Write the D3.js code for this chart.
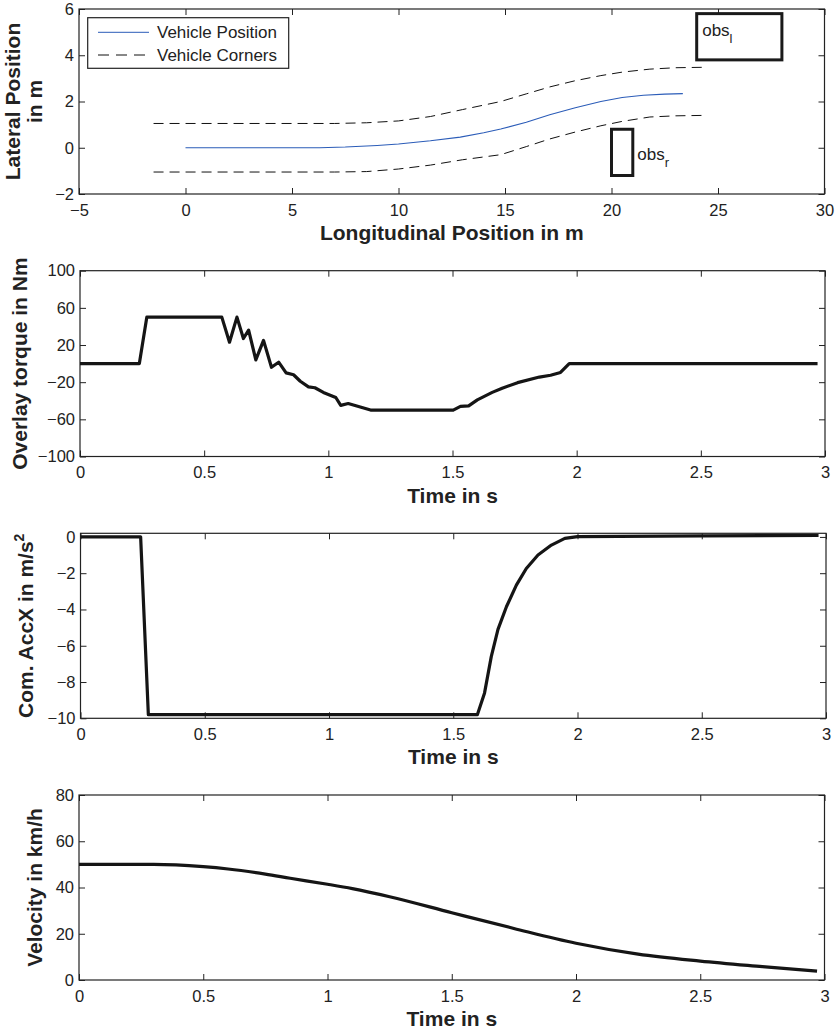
<!DOCTYPE html>
<html><head><meta charset="utf-8">
<script src="https://cdn.jsdelivr.net/npm/d3@7"></script>
<style>
body{margin:0;background:#fff}
svg{display:block}
text{font-family:"Liberation Sans",Arial,Helvetica,sans-serif;fill:#222}
</style>
</head><body>
<svg id="c" width="836" height="1029"></svg>
<script>
// ---------- Panel 1: trajectory ----------
const posX = [0, 2, 4, 6.3, 7.5, 9, 10, 11.5, 12.9, 14, 14.8, 16, 17.1, 18.3, 19.5, 20.5, 21.5, 22.5, 23.35];
const posY = [0, 0, 0, 0, 0.03, 0.1, 0.16, 0.3, 0.46, 0.65, 0.81, 1.1, 1.43, 1.73, 2.0, 2.17, 2.27, 2.32, 2.34];
const cornerX = [-1.5, 0, 5, 7, 8.5, 10, 11.5, 13, 14.8, 16, 17.1, 18.3, 19.5, 20.5, 21.8, 23, 24.4];
const cornerUpperY = [1.05, 1.05, 1.05, 1.05, 1.08, 1.16, 1.35, 1.65, 2.0, 2.33, 2.63, 2.9, 3.12, 3.27, 3.4, 3.46, 3.48];
const cornerLowerY = [-1.05, -1.05, -1.05, -1.05, -1.03, -0.92, -0.75, -0.52, -0.3, 0.05, 0.38, 0.68, 0.95, 1.14, 1.33, 1.38, 1.40];
const obstacleNames = ["l", "r"];
const obstacleX0 = [24, 20];
const obstacleX1 = [28, 21];
const obstacleY0 = [3.8, -1.2];
const obstacleY1 = [5.8, 0.8];
const legendLabels = ["Vehicle Position", "Vehicle Corners"];
const p1XTicks = [-5, 0, 5, 10, 15, 20, 25, 30];
const p1YTicks = [-2, 0, 2, 4, 6];

// ---------- Panel 2: overlay torque ----------
const torqueT = [0, 0.239, 0.269, 0.571, 0.602, 0.632, 0.658, 0.679, 0.708, 0.739, 0.771, 0.8, 0.83, 0.86, 0.887, 0.92, 0.946, 0.98, 1.03, 1.05, 1.08, 1.17, 1.503, 1.532, 1.565, 1.6, 1.66, 1.7, 1.762, 1.85, 1.895, 1.935, 1.97, 2.97];
const torqueV = [0, 0, 50, 50, 23, 50, 27, 36, 4, 25, -4, 1.5, -10, -12, -19, -25, -26, -31, -36.5, -45, -43, -50, -50, -46, -45.5, -39, -31, -26.5, -20.5, -14.5, -12.5, -9.5, 0, 0];
const p2YTicks = [-100, -60, -20, 20, 60, 100];

// ---------- Panel 3: commanded acceleration ----------
const accT = [0, 0.242, 0.273, 1.597, 1.626, 1.653, 1.68, 1.714, 1.754, 1.794, 1.841, 1.895, 1.949, 2.0, 2.5, 2.97];
const accV = [0, 0, -9.8, -9.8, -8.6, -6.6, -5.1, -3.85, -2.66, -1.74, -1.0, -0.45, -0.08, 0.02, 0.06, 0.08];
const p3YTicks = [-10, -8, -6, -4, -2, 0];

// ---------- Panel 4: velocity ----------
const velT = [0, 0.3, 0.5, 0.6, 0.75, 0.85, 1.0, 1.1, 1.25, 1.5, 1.75, 2.0, 2.25, 2.5, 2.75, 2.97];
const velV = [50, 50, 49, 48, 45.8, 44, 41.4, 39.5, 36, 29.1, 22.3, 15.9, 11.2, 8.2, 5.8, 3.8];
const p4YTicks = [0, 20, 40, 60, 80];

const timeTicks = [0, 0.5, 1, 1.5, 2, 2.5, 3];

const svg = d3.select("#c");
const INK = "#222";
const fmt = d => (d < 0 ? "\u2212" : "") + Math.abs(d);

function makePanel(o) {
  const x = d3.scaleLinear().domain(o.xd).range([o.l, o.r]);
  const y = d3.scaleLinear().domain(o.yd).range([o.b, o.t]);
  const g = svg.append("g");
  const style = sel => {
    sel.attr("font-size", 16.5).attr("font-family", '"Liberation Sans",Arial,sans-serif').attr("color", INK);
    sel.select(".domain").remove();
    sel.selectAll(".tick line").attr("stroke", INK).attr("stroke-width", 1);
  };
  g.append("g").attr("transform", `translate(0,${o.b})`)
    .call(d3.axisBottom(x).tickValues(o.xt).tickSizeInner(-6).tickSizeOuter(0).tickPadding(10).tickFormat(fmt)).call(style);
  g.append("g").attr("transform", `translate(0,${o.t})`)
    .call(d3.axisTop(x).tickValues(o.xt).tickSizeInner(-6).tickSizeOuter(0).tickFormat("")).call(style);
  g.append("g").attr("transform", `translate(${o.l},0)`)
    .call(d3.axisLeft(y).tickValues(o.yt).tickSizeInner(-6).tickSizeOuter(0).tickPadding(5).tickFormat(fmt)).call(style);
  g.append("g").attr("transform", `translate(${o.r},0)`)
    .call(d3.axisRight(y).tickValues(o.yt).tickSizeInner(-6).tickSizeOuter(0).tickFormat("")).call(style);
  g.append("rect").attr("x", o.l).attr("y", o.t).attr("width", o.r - o.l).attr("height", o.b - o.t)
    .attr("fill", "none").attr("stroke", INK).attr("stroke-width", 1.2);
  // x label
  g.append("text").attr("x", (o.l + o.r) / 2).attr("y", o.b + 46).attr("text-anchor", "middle")
    .attr("font-size", 21).attr("font-weight", "bold").text(o.xlabel);
  return { x, y, g };
}

function yLabel(lines, baselineX, cy, sup) {
  lines.forEach((ln, i) => {
    const t = svg.append("text")
      .attr("transform", `translate(${ln.x},${cy}) rotate(-90)`)
      .attr("text-anchor", "middle").attr("font-size", 21).attr("font-weight", "bold");
    t.append("tspan").text(ln.text);
    if (ln.sup) {
      t.append("tspan").attr("font-size", 14).attr("dy", -9).text(ln.sup);
    }
  });
}

const line = (xs, sx, sy) => d3.line().x((d, i) => sx(xs[i])).y(d => sy(d));

// ===== Panel 1 =====
const P1 = makePanel({ l: 79, r: 824.5, t: 9, b: 194, xd: [-5, 30], yd: [-2, 6], xt: p1XTicks, yt: p1YTicks, xlabel: "Longitudinal Position in m" });
yLabel([{ x: 19.5, text: "Lateral Position" }, { x: 41.7, text: "in m" }], 0, 101.5);

[cornerUpperY, cornerLowerY].forEach(arr => {
  P1.g.append("path").attr("d", line(cornerX, P1.x, P1.y)(arr))
    .attr("fill", "none").attr("stroke", "#111").attr("stroke-width", 1).attr("stroke-dasharray", "10,6");
});
P1.g.append("path").attr("d", line(posX, P1.x, P1.y)(posY))
  .attr("fill", "none").attr("stroke", "#2b5cb8").attr("stroke-width", 1.1);

obstacleNames.forEach((nm, i) => {
  const x0 = P1.x(obstacleX0[i]), x1 = P1.x(obstacleX1[i]);
  const yTop = P1.y(obstacleY1[i]), yBot = P1.y(obstacleY0[i]);
  P1.g.append("rect").attr("x", x0).attr("y", yTop).attr("width", x1 - x0).attr("height", yBot - yTop)
    .attr("fill", "none").attr("stroke", "#1a1a1a").attr("stroke-width", 3);
  const tx = i === 0 ? x0 + 5.5 : x1 + 4.5;
  const ty = i === 0 ? yTop + 22.5 : yTop + 30.5;
  const t = P1.g.append("text").attr("x", tx).attr("y", ty).attr("font-size", 17);
  t.append("tspan").text("obs");
  t.append("tspan").attr("font-size", 13).attr("dy", 7).text(nm);
});

// legend
const lg = P1.g.append("g");
lg.append("rect").attr("x", 87.7).attr("y", 17.7).attr("width", 201).attr("height", 50.6)
  .attr("fill", "#fff").attr("stroke", INK).attr("stroke-width", 1.2);
legendLabels.forEach((lab, i) => {
  const yy = 32.3 + i * 22.7;
  lg.append("line").attr("x1", 98).attr("x2", 149).attr("y1", yy).attr("y2", yy)
    .attr("stroke", i === 0 ? "#2b5cb8" : "#111").attr("stroke-width", 1)
    .attr("stroke-dasharray", i === 0 ? null : "11,7");
  lg.append("text").attr("x", 157).attr("y", yy).attr("dy", "0.36em").attr("font-size", 17).text(lab);
});

// ===== Panel 2 =====
const P2 = makePanel({ l: 80, r: 825, t: 270.7, b: 456.5, xd: [0, 3], yd: [-100, 100], xt: timeTicks, yt: p2YTicks, xlabel: "Time in s" });
yLabel([{ x: 26.7, text: "Overlay torque in Nm" }], 0, 363.6);
P2.g.append("path").attr("d", line(torqueT, P2.x, P2.y)(torqueV))
  .attr("fill", "none").attr("stroke", "#151515").attr("stroke-width", 3.2).attr("stroke-linejoin", "round");

// ===== Panel 3 =====
const P3 = makePanel({ l: 80.5, r: 826, t: 533.3, b: 718.3, xd: [0, 3], yd: [-10, 0.2], xt: timeTicks, yt: p3YTicks, xlabel: "Time in s" });
yLabel([{ x: 32.5, text: "Com. AccX in m/s", sup: "2" }], 0, 625.8);
P3.g.append("path").attr("d", line(accT, P3.x, P3.y)(accV))
  .attr("fill", "none").attr("stroke", "#151515").attr("stroke-width", 3.2).attr("stroke-linejoin", "round");

// ===== Panel 4 =====
const P4 = makePanel({ l: 79, r: 824.5, t: 795, b: 980, xd: [0, 3], yd: [0, 80], xt: timeTicks, yt: p4YTicks, xlabel: "Time in s" });
yLabel([{ x: 41.7, text: "Velocity in km/h" }], 0, 887.5);
P4.g.append("path").attr("d", d3.line().curve(d3.curveMonotoneX).x((d, i) => P4.x(velT[i])).y(d => P4.y(d))(velV))
  .attr("fill", "none").attr("stroke", "#151515").attr("stroke-width", 3.2).attr("stroke-linejoin", "round");
</script>
</body></html>
